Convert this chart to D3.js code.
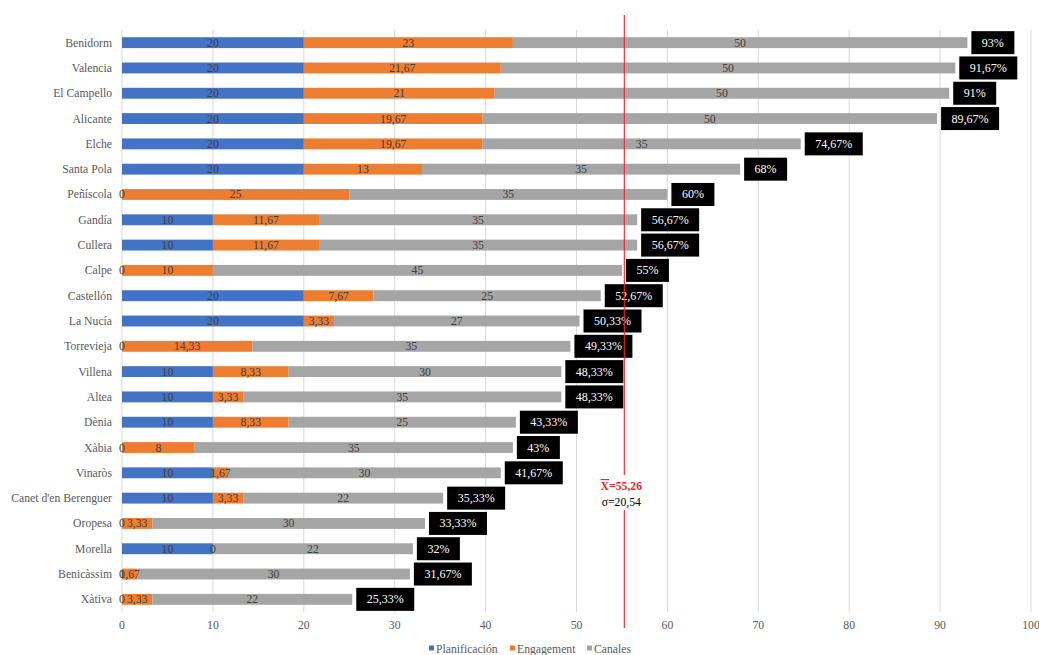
<!DOCTYPE html>
<html>
<head>
<meta charset="utf-8">
<style>
  body { margin: 0; background: #fff; }
</style>
</head>
<body>
<div id="vizDiv"></div>
<script src="https://d3js.org/d3.v7.min.js"></script>
<script>
// data
const cities = ["Benidorm", "Valencia", "El Campello", "Alicante", "Elche", "Santa Pola", "Peñíscola",
  "Gandía", "Cullera", "Calpe", "Castellón", "La Nucía", "Torrevieja", "Villena", "Altea", "Dènia",
  "Xàbia", "Vinaròs", "Canet d'en Berenguer", "Oropesa", "Morella", "Benicàssim", "Xàtiva"];
const planificacion = [20, 20, 20, 20, 20, 20, 0, 10, 10, 0, 20, 20, 0, 10, 10, 10, 0, 10, 10, 0, 10, 0, 0];
const engagement = [23, 21.67, 21, 19.67, 19.67, 13, 25, 11.67, 11.67, 10, 7.67, 3.33, 14.33, 8.33, 3.33, 8.33, 8, 1.67, 3.33, 3.33, 0, 1.67, 3.33];
const canales = [50, 50, 50, 50, 35, 35, 35, 35, 35, 45, 25, 27, 35, 30, 35, 25, 35, 30, 22, 30, 22, 30, 22];
const seriesNames = ["Planificación", "Engagement", "Canales"];
const seriesColors = ["#4472C4", "#ED7D31", "#A5A5A5"];
const xTicks = [0, 10, 20, 30, 40, 50, 60, 70, 80, 90, 100];
const mean = 55.26;
const sd = 20.54;

const fmt = v => String(v).replace(".", ",");
const FONT = "'Liberation Serif', 'Times New Roman', serif";
const FS = 11.7;

const rows = cities.map((c, i) => ({
  city: c,
  "Planificación": planificacion[i],
  "Engagement": engagement[i],
  "Canales": canales[i]
}));

const W = 1039, H = 655;
const svg = d3.select("#vizDiv").append("svg")
  .attr("width", W).attr("height", H)
  .style("font-family", FONT);

const x = d3.scaleLinear().domain([0, 100]).range([122, 1031]);
const y = d3.scaleBand().domain(cities).range([30, 612])
  .paddingInner(0.57).paddingOuter(0.285);

// gridlines
svg.append("g").selectAll("line").data(xTicks).join("line")
  .attr("x1", d => x(d)).attr("x2", d => x(d))
  .attr("y1", 30).attr("y2", 612)
  .attr("stroke", "#d9d9d9").attr("stroke-width", 1);

// tick labels
svg.append("g").selectAll("text").data(xTicks).join("text")
  .attr("x", d => x(d)).attr("y", 629)
  .attr("text-anchor", "middle")
  .attr("font-size", FS).attr("fill", "#595959")
  .style("font-family", FONT)
  .text(d => d);

// category labels
svg.append("g").selectAll("text").data(cities).join("text")
  .attr("x", 112).attr("y", d => y(d) + y.bandwidth() / 2 + 4)
  .attr("text-anchor", "end")
  .attr("font-size", FS).attr("fill", "#595959")
  .style("font-family", FONT)
  .text(d => d);

const stack = d3.stack().keys(seriesNames)(rows);

const layers = svg.append("g").selectAll("g").data(stack).join("g")
  .attr("fill", (d, i) => seriesColors[i]);

layers.selectAll("rect").data(d => d).join("rect")
  .attr("x", d => x(d[0]))
  .attr("width", d => x(d[1]) - x(d[0]))
  .attr("y", d => y(d.data.city))
  .attr("height", y.bandwidth());

// segment value labels
const segLabels = svg.append("g");
stack.forEach(layer => {
  segLabels.selectAll(null).data(layer).join("text")
    .attr("x", d => x((d[0] + d[1]) / 2))
    .attr("y", d => y(d.data.city) + y.bandwidth() / 2 + 4)
    .attr("text-anchor", "middle")
    .attr("font-size", FS).attr("fill", "#404040")
    .style("font-family", FONT)
    .text(d => fmt(d.data[layer.key]));
});

// total labels in black boxes
const totals = rows.map(r => ({
  city: r.city,
  total: +(r["Planificación"] + r["Engagement"] + r["Canales"]).toFixed(2)
}));
const tg = svg.append("g").selectAll("g").data(totals).join("g")
  .attr("transform", d => `translate(${x(d.total) + 4},${y(d.city) + y.bandwidth() / 2})`);
tg.append("text")
  .attr("x", 10.5).attr("y", 4)
  .attr("font-size", FS + 0.3).attr("fill", "#fff")
  .style("font-family", FONT)
  .text(d => fmt(d.total) + "%");
tg.each(function () {
  const g = d3.select(this);
  const w = g.select("text").node().getComputedTextLength();
  g.insert("rect", "text")
    .attr("x", 0).attr("y", -11.5)
    .attr("width", w + 21).attr("height", 23)
    .attr("fill", "#000");
});

// mean line
svg.append("line")
  .attr("x1", x(mean)).attr("x2", x(mean))
  .attr("y1", 15).attr("y2", 628)
  .attr("stroke", "#E8262A").attr("stroke-width", 1.1);

const ann = svg.append("g");
ann.append("rect").attr("x", x(mean) - 22).attr("y", 475).attr("width", 44).attr("height", 35).attr("fill", "#fff");
const mt = ann.append("text")
  .attr("x", x(mean) - 3).attr("y", 490)
  .attr("text-anchor", "middle")
  .attr("font-size", FS).attr("font-weight", "bold").attr("fill", "#E8262A")
  .style("font-family", FONT);
mt.append("tspan").attr("text-decoration", "overline").text("X");
mt.append("tspan").text("=" + fmt(mean));
ann.append("text")
  .attr("x", x(mean) - 3).attr("y", 506)
  .attr("text-anchor", "middle")
  .attr("font-size", FS).attr("fill", "#000")
  .style("font-family", FONT)
  .text("σ=" + fmt(sd));

// legend
const legX = [429, 510, 587];
const lg = svg.append("g").selectAll("g").data(seriesNames).join("g")
  .attr("transform", (d, i) => `translate(${legX[i]},649)`);
lg.append("rect").attr("x", 0).attr("y", -3.5).attr("width", 5).attr("height", 5)
  .attr("fill", (d, i) => seriesColors[i]);
lg.append("text").attr("x", 7).attr("y", 3.5)
  .attr("font-size", FS).attr("fill", "#595959")
  .style("font-family", FONT)
  .text(d => d);
</script>
</body>
</html>
